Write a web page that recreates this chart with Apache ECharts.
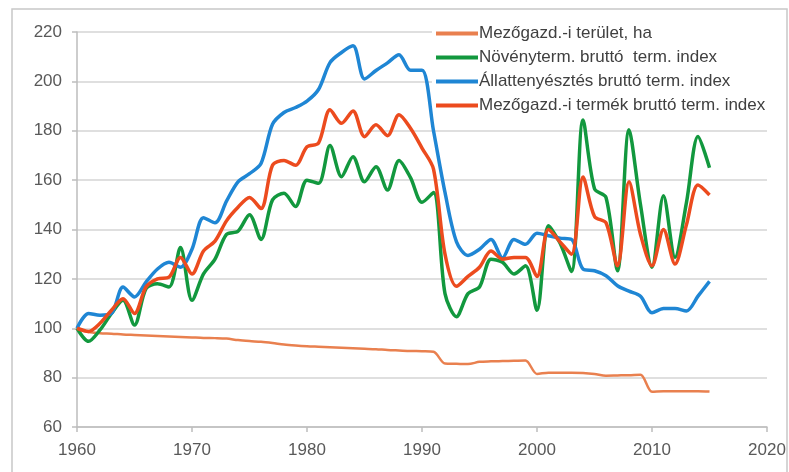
<!DOCTYPE html>
<html>
<head>
<meta charset="utf-8">
<script src="https://cdn.jsdelivr.net/npm/echarts@6/dist/echarts.min.js"></script>
<style>
  html, body { margin: 0; padding: 0; background: #fff; }
  #chart { width: 789px; height: 472px; }
</style>
</head>
<body>
<div id="chart"></div>
<script>
// evek 1960-2015
var years = [];
for (var y = 1960; y <= 2015; y++) years.push(y);

var seriesNames = [
    'Mezőgazd.-i terület, ha',
    'Növényterm. bruttó  term. index',
    'Állattenyésztés bruttó term. index',
    'Mezőgazd.-i termék bruttó term. index'
];

var terulet = [
    100, 98.5, 98, 97.8, 97.5, 97.3, 97.1, 96.9, 96.7, 96.5,
    96.3, 96.1, 96, 95.8, 95.2, 94.8, 94.5, 94, 93.4, 93,
    92.7, 92.5, 92.3, 92.1, 91.9, 91.7, 91.5, 91.2, 91, 90.8,
    90.7, 90.5, 85.7, 85.6, 85.5, 86.4, 86.6, 86.7, 86.8, 86.9,
    81.5, 82, 82, 82, 81.9, 81.5, 80.8, 80.9, 81, 81.2,
    74.3, 74.5, 74.5, 74.5, 74.5, 74.4
];

var novenyterm = [
    100, 94.7, 99.3, 106, 111.3, 101.3, 116, 118, 116.7, 132.7,
    111.3, 122, 128, 138, 139.3, 146, 136, 152, 154.7, 149.3,
    160, 158.7, 174, 161.4, 169.5, 159.3, 165.4, 156, 168, 161,
    151, 155, 114, 104.7, 114, 116.7, 128, 126.7, 122, 125.3,
    107.3, 141.5, 134.5, 123, 184.4, 156.5, 153, 123.3, 180.4, 150,
    124.7, 153.7, 128.7, 151, 177.7, 165
];

var allattenyesztes = [
    100, 106, 105.3, 106, 116.7, 112.7, 118.7, 124, 126.7, 124.7,
    132, 144.8, 142.7, 151.5, 159.3, 162.6, 166.7, 182.6, 187.4, 189.4,
    192, 196.7, 207.6, 211.7, 214.4, 201, 204.4, 207.5, 210.8, 204.5,
    204.5, 180, 155, 135, 129.5, 132, 136, 128.5, 136, 134,
    138.5, 137.5, 136.5, 136, 124, 123.3, 121.3, 117.2, 115, 113,
    106.3, 108, 108, 107, 113, 119
];

var termek = [
    100, 98.7, 102, 107.3, 112, 106, 116.7, 120, 120.7, 128.7,
    122, 131.3, 135.3, 143.5, 149, 153, 148.5, 166, 168, 166,
    173.5, 175, 188.5, 183, 188, 177.6, 182.4, 178, 186.5, 181,
    173, 164.5, 130, 117, 121, 124.7, 131.3, 128, 128.7, 128.7,
    121, 140, 135, 130, 161.3, 145.3, 142.7, 125.3, 159.3, 138,
    125.3, 140, 126, 142, 158, 154
];

var colors = ['#E9804F', '#12983E', '#1F86D4', '#EC4B1E'];
var widths = [2.5, 3.5, 3.5, 3.5];
var values = [terulet, novenyterm, allattenyesztes, termek];

function pairs(arr) {
    return years.map(function (yr, i) { return [yr, arr[i]]; });
}

var series = seriesNames.map(function (name, i) {
    return {
        name: name,
        type: 'line',
        data: pairs(values[i]),
        smooth: 0.3,
        showSymbol: false,
        symbol: 'none',
        lineStyle: { color: colors[i], width: widths[i] },
        itemStyle: { color: colors[i] },
        z: 2 + i
    };
});

var myChart = echarts.init(document.getElementById('chart'));
var option = {
    animation: false,
    backgroundColor: '#fff',
    graphic: [{
        type: 'rect',
        shape: { x: 12, y: 9, width: 775, height: 470 },
        style: { fill: 'none', stroke: '#c8c8c8', lineWidth: 1.5 },
        silent: true,
        z: -1
    }],
    grid: { left: 77, right: 22, top: 32, bottom: 45, containLabel: false },
    legend: {
        orient: 'vertical',
        left: 432,
        top: 23,
        backgroundColor: '#fff',
        padding: [2, 4, 4, 4],
        itemWidth: 42,
        itemHeight: 4,
        itemGap: 7,
        icon: 'rect',
        textStyle: { fontFamily: 'Liberation Sans', fontSize: 17, color: '#404040', lineHeight: 17, padding: [0, 0, 0, -4] },
        data: seriesNames
    },
    xAxis: {
        type: 'value',
        min: 1960,
        max: 2020,
        interval: 10,
        axisLine: { lineStyle: { color: '#bdbdbd', width: 1.5 } },
        axisTick: { show: true, length: 5, lineStyle: { color: '#bdbdbd', width: 1.5 } },
        axisLabel: {
            fontFamily: 'Liberation Sans', fontSize: 17, color: '#595959', margin: 15,
            formatter: function (v) { return String(v); }
        },
        splitLine: { show: false }
    },
    yAxis: {
        type: 'value',
        min: 60,
        max: 220,
        interval: 20,
        axisLine: { show: true, lineStyle: { color: '#bdbdbd', width: 1.5 } },
        axisTick: { show: true, length: 5, lineStyle: { color: '#bdbdbd', width: 1.5 } },
        axisLabel: { fontFamily: 'Liberation Sans', fontSize: 17, color: '#595959', margin: 15 },
        splitLine: { lineStyle: { color: '#d4d4d4', width: 1.5 } }
    },
    series: series
};
myChart.setOption(option);
</script>
</body>
</html>
